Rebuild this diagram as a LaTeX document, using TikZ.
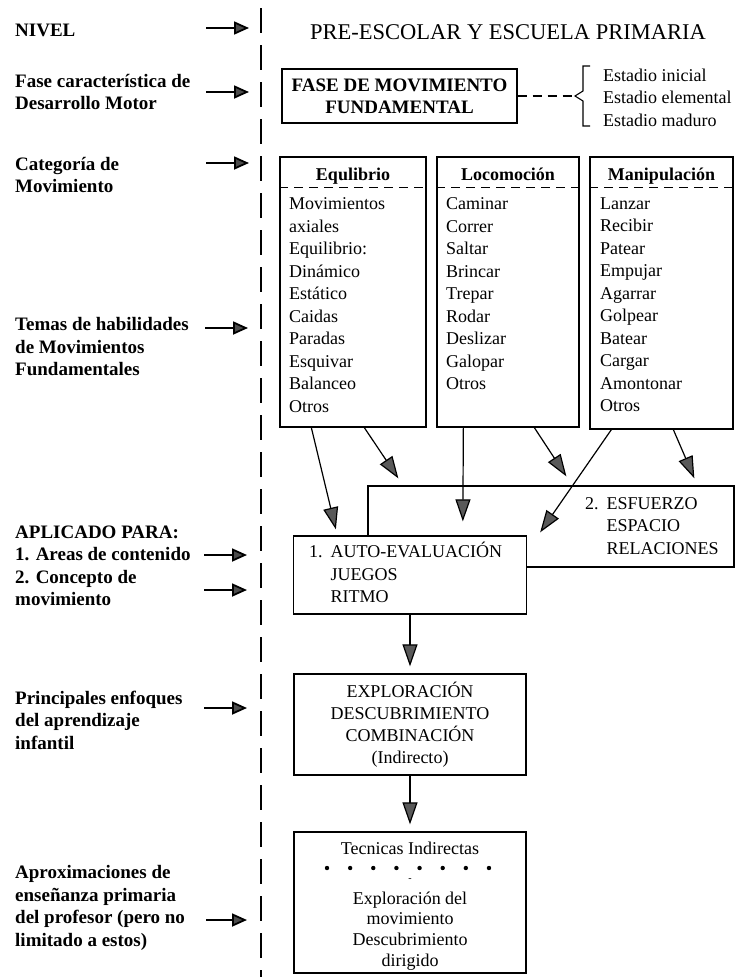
\documentclass[tikz,border=0pt]{standalone}
\usepackage{fontspec}
\setmainfont{Liberation Serif}
\usetikzlibrary{arrows.meta,positioning}

\tikzset{
  lbl/.style={anchor=west, align=left, inner sep=0pt, font=\fontsize{19}{22.5}\selectfont\bfseries},
  txt/.style={inner sep=0pt, font=\fontsize{18}{22.5}\selectfont},
  head/.style={inner sep=0pt, anchor=base, font=\fontsize{18}{22}\selectfont\bfseries},
  box/.style={draw, line width=1.3pt, fill=white, inner sep=0pt},
  larrow/.style={line width=1.8pt, -{Triangle[length=15pt,width=13pt,fill=black!70]}},
  bigarrow/.style={line width=1.2pt, -{Triangle[length=22pt,width=15pt,fill=black!65]}},
  sepline/.style={line width=1.6pt, dash pattern=on 25pt off 12pt},
  hdash/.style={line width=1.1pt, dash pattern=on 9pt off 6pt},
}

\begin{document}
\begin{tikzpicture}[x=1pt,y=-1pt]
\useasboundingbox (0,0) rectangle (737,977);

% separator
\coordinate (sepTop) at (261,8);
\coordinate (sepBot) at (261,977);
\draw[sepline] (sepTop) -- (sepBot);

% left column
\node[lbl] (nivel) at (15,30) {NIVEL};
\node[lbl] (fase) at (15,92) {Fase característica de\\Desarrollo Motor};
\node[lbl] (categoria) at (15,175) {Categoría de\\Movimiento};
\node[lbl] (temas) at (15,347) {Temas de habilidades\\de Movimientos\\Fundamentales};
\node[lbl] (aplicado) at (15,566) {APLICADO PARA:\\1. Areas de contenido\\2. Concepto de\\movimiento};
\node[lbl] (enfoques) at (15,720) {Principales enfoques\\del aprendizaje\\infantil};
\node[lbl] (aprox) at (15,908) {Aproximaciones de\\enseñanza primaria\\del profesor (pero no\\limitado a estos)};

\coordinate (nivelA) at (206,28);   \coordinate (nivelB) at (249,28);
\coordinate (faseA) at (206,92);    \coordinate (faseB) at (249,92);
\coordinate (catA) at (206,163);    \coordinate (catB) at (249,163);
\coordinate (temasA) at (205,328);  \coordinate (temasB) at (248,328);
\coordinate (areasA) at (204,555);  \coordinate (areasB) at (247,555);
\coordinate (concA) at (204,590);   \coordinate (concB) at (247,590);
\coordinate (enfA) at (204,708);    \coordinate (enfB) at (247,708);
\coordinate (aproxA) at (206,920);  \coordinate (aproxB) at (247,920);
\draw[larrow] (nivelA) -- (nivelB);
\draw[larrow] (faseA) -- (faseB);
\draw[larrow] (catA) -- (catB);
\draw[larrow] (temasA) -- (temasB);
\draw[larrow] (areasA) -- (areasB);
\draw[larrow] (concA) -- (concB);
\draw[larrow] (enfA) -- (enfB);
\draw[larrow] (aproxA) -- (aproxB);

% right column
\node[inner sep=0pt, font=\fontsize{22.5}{26}\selectfont] (nivelR) at (508,32) {PRE-ESCOLAR Y ESCUELA PRIMARIA};

\node[box, minimum width=235pt, minimum height=54pt, align=center, font=\fontsize{19}{22}\selectfont\bfseries] (fmf) at (399.5,96) {FASE DE MOVIMIENTO\\FUNDAMENTAL};
\coordinate (brace) at (575,96);
\draw[hdash] (fmf.east) -- (brace);
\draw[line width=1.1pt] (brace) ++(15,-30) -- ++(-7,0) -- ++(0,25) -- ++(-8,5) -- ++(8,5) -- ++(0,25) -- ++(7,0);
\node[txt, anchor=west, align=left] (estadios) at (603,97.5) {Estadio inicial\\Estadio elemental\\Estadio maduro};

% movement categories
\node[box, minimum width=146pt, minimum height=270pt] (equi) at (353,292) {};
\node[box, minimum width=142pt, minimum height=270pt] (loco) at (508,292) {};
\node[box, minimum width=143pt, minimum height=272pt] (mani) at (661.5,293) {};
\node[head] (equiH) at (353,180) {Equlibrio};
\node[head] (locoH) at (508,180) {Locomoción};
\node[head] (maniH) at (661.5,180) {Manipulación};
\draw[hdash] ([yshift=-31pt]equi.north west) -- ([yshift=-31pt]equi.north east);
\draw[hdash] ([yshift=-31pt]loco.north west) -- ([yshift=-31pt]loco.north east);
\draw[hdash] ([yshift=-31pt]mani.north west) -- ([yshift=-31pt]mani.north east);
\node[txt, anchor=north west, align=left] (equiL) at (289,197.5) {Movimientos\\axiales\\Equilibrio:\\Dinámico\\Estático\\Caidas\\Paradas\\Esquivar\\Balanceo\\Otros};
\node[txt, anchor=north west, align=left] (locoL) at (446,197.5) {Caminar\\Correr\\Saltar\\Brincar\\Trepar\\Rodar\\Deslizar\\Galopar\\Otros};
\node[txt, anchor=north west, align=left] (maniL) at (600,197.5) {Lanzar\\Recibir\\Patear\\Empujar\\Agarrar\\Golpear\\Batear\\Cargar\\Amontonar\\Otros};

% applied to
\node[box, minimum width=366pt, minimum height=81pt] (esf) at (551,526.5) {};
\node[txt, anchor=west] (esfT) at (585,527) {\begin{tabular}{@{}l@{\hspace{8pt}}l@{}}2. & ESFUERZO\\ & ESPACIO\\ & RELACIONES\end{tabular}};
\node[box, minimum width=233pt, minimum height=78pt] (auto) at (410,575) {};
\node[txt, anchor=west] (autoT) at (309,575.5) {\begin{tabular}{@{}l@{\hspace{8pt}}l@{}}1. & AUTO-EVALUACIÓN\\ & JUEGOS\\ & RITMO\end{tabular}};

\draw[bigarrow] ([xshift=32pt]equi.south west) -- ([xshift=43pt,yshift=6pt]auto.north west);
\draw[bigarrow] ([xshift=85pt]equi.south west) -- ([xshift=31pt,yshift=7pt]esf.north west);
\draw[bigarrow] ([xshift=27pt]loco.south west) -- ([xshift=170pt,yshift=14pt]auto.north west);
\draw[bigarrow] ([xshift=98pt]loco.south west) -- ([xshift=199pt,yshift=9pt]esf.north west);
\draw[bigarrow] ([xshift=22pt]mani.south west) -- ([xshift=13pt,yshift=3pt]auto.north east);
\draw[bigarrow] ([xshift=84pt]mani.south west) -- ([xshift=327pt,yshift=7pt]esf.north west);

% learning approaches
\node[box, minimum width=232pt, minimum height=101pt, align=center, font=\fontsize{18}{22}\selectfont] (expl) at (410,724.5) {EXPLORACIÓN\\DESCUBRIMIENTO\\COMBINACIÓN\\(Indirecto)};
\draw[bigarrow, shorten >=7pt] (auto.south) -- (expl.north);

% teaching approaches
\node[box, minimum width=232pt, minimum height=141pt] (tec) at (410,902.5) {};
\draw[bigarrow, shorten >=7pt] (expl.south) -- (tec.north);
\node[txt] (tecH) at (410,848) {Tecnicas Indirectas};
\foreach \i in {0,...,7}
  \fill (327+23.14*\i,868) circle (2.2pt);
\node[txt, font=\fontsize{10}{10}\selectfont] (tecDash) at (410,880) {-};
\node[txt, align=center, font=\fontsize{18}{20.7}\selectfont] (tecT) at (410,931) {Exploración del\\movimiento\\Descubrimiento\\dirigido};

\end{tikzpicture}
\end{document}
